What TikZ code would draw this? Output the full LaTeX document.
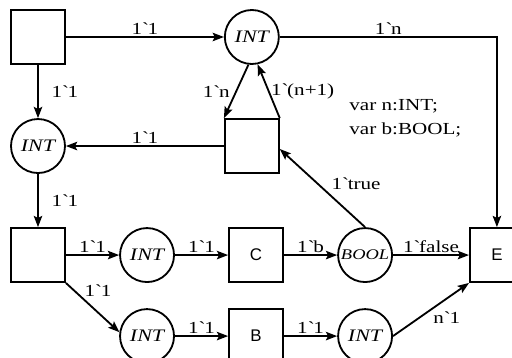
\documentclass[tikz,border=0pt]{standalone}
\usepackage{fontspec}
\setmainfont{Liberation Serif}[FakeStretch=1.25]
\setsansfont{Liberation Sans}
\usetikzlibrary{positioning, arrows.meta}
\newcommand{\gq}{\textasciigrave}

\begin{document}
\begin{tikzpicture}[
      node distance=1.33cm and 1.33cm,
      box/.style={rectangle, draw, line width=1.3pt, minimum width=1.35cm, minimum height=1.35cm, font=\sffamily\fontsize{12}{14}\selectfont},
      place/.style={circle, draw, line width=1.3pt, minimum size=1.35cm, inner sep=0pt, font=\itshape\fontsize{12.5}{14}\selectfont},
      arrow/.style={-{Stealth[length=8pt, width=6pt, inset=1.5pt]}, line width=1.3pt},
      lbl/.style={inner sep=1pt, font=\fontsize{12}{17.5}\selectfont}
    ]
    \useasboundingbox (-0.95,0.925) rectangle (11.85,-8.0);
    \clip (-0.95,0.925) rectangle (11.85,-8.0);
    \node[box] (start) at (0,0) {};
    \node[place, right=3.95cm of start] (cnt) {INT};
    \node[place, below=of start] (ready) {INT};
    \node[box, below=of cnt] (inc) {};
    \node[box, below=of ready] (fork) {};
    \node[place, right=of fork] (pc) {INT};
    \node[box, right=of pc] (tc) {C};
    \node[place, right=of tc, font=\itshape\fontsize{10.5}{12}\selectfont] (flag) {BOOL};
    \node[box, right=1.9cm of flag] (te) {E};
    \node[place, below=0.63cm of pc] (pb) {INT};
    \node[box, right=of pb] (tb) {B};
    \node[place, right=of tb] (done) {INT};
    \node[lbl, align=left, right=1.7cm of inc.north east] (decl) {var n:INT;\\var b:BOOL;};

    \draw[arrow] (start) -- node[lbl, above] {1\gq1} (cnt);
    \draw[arrow] (start) -- node[lbl, right=8pt] {1\gq1} (ready);
    \draw[arrow] (cnt) -| node[lbl, above, pos=0.25] {1\gq n} (te);
    \draw[arrow] (cnt.-97) -- node[lbl, left=3pt] {1\gq n} (inc.north west);
    \draw[arrow] (inc.north east) -- node[lbl, right] {1\gq(n+1)} (cnt.-78);
    \draw[arrow] (inc) -- node[lbl, above] {1\gq1} (ready);
    \draw[arrow] (ready) -- node[lbl, right=8pt] {1\gq1} (fork);
    \draw[arrow] (fork) -- node[lbl, above] {1\gq1} (pc);
    \draw[arrow] (pc) -- node[lbl, above] {1\gq1} (tc);
    \draw[arrow] (tc) -- node[lbl, above] {1\gq b} (flag);
    \draw[arrow] (flag) -- node[lbl, above] {1\gq false} (te);
    \draw[arrow] (flag.north) -- node[lbl, right=0.3cm, pos=0.56] {1\gq true} (inc.-6);
    \draw[arrow] (fork.south east) -- node[lbl, right=6pt, pos=0.15] {1\gq1} (pb.172);
    \draw[arrow] (pb) -- node[lbl, above] {1\gq1} (tb);
    \draw[arrow] (tb) -- node[lbl, above] {1\gq1} (done);
    \draw[arrow] (done.east) -- node[lbl, below right] {n\gq1} (te.south west);
  \end{tikzpicture}
\end{document}
